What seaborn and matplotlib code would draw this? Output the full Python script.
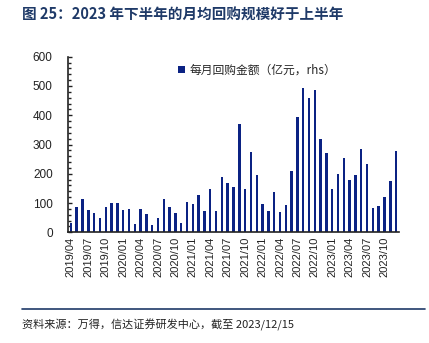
import matplotlib
matplotlib.use("Agg")
import matplotlib.pyplot as plt
import seaborn as sns
import pandas as pd
from matplotlib.ticker import MultipleLocator

# Monthly buyback amounts, 2019/04 - 2023/12 (100 million yuan)
months = [f"{y}/{m:02d}" for y in range(2019, 2024) for m in range(1, 13)][3:]
buyback = [31, 88, 113, 76, 65, 48, 85, 99, 101,
           75, 79, 27, 80, 63, 26, 48, 113, 85, 66, 31, 105,
           96, 129, 72, 147, 72, 189, 170, 155, 370, 149, 276, 197,
           97, 72, 137, 69, 92, 208, 394, 492, 459, 487, 318, 270,
           147, 198, 253, 178, 197, 284, 233, 83, 91, 121, 174, 277]
series_label = "每月回购金额（亿元，rhs）"
title_text = "图 25：2023 年下半年的月均回购规模好于上半年"
source_text = "资料来源：万得，信达证券研发中心，截至 2023/12/15"

df = pd.DataFrame({"month": months, "value": buyback})

sns.set_theme(style="white")
plt.rcParams["font.family"] = ["Noto Sans CJK SC", "DejaVu Sans"]
num_font = ["Liberation Sans", "DejaVu Sans"]
navy = "#0b2283"

fig = plt.figure(figsize=(4.29, 3.43), dpi=100)
ax = fig.add_axes([0.1585, 0.3227, 0.7716, 0.512])

sns.barplot(data=df, x="month", y="value", color=navy, width=0.42,
            saturation=1, linewidth=0, edgecolor="none", ax=ax, label=series_label)

ax.set_xlim(-0.5, len(months) - 0.5)
ax.set_ylim(0, 600)
ax.set_xlabel("")
ax.set_ylabel("")

ax.set_xticks(range(0, len(months), 3))
ax.set_xticklabels(months[::3], rotation=90, fontfamily=num_font, fontsize=8, color="#222222")
ax.yaxis.set_major_locator(MultipleLocator(100))
ax.yaxis.set_minor_locator(MultipleLocator(20))
for lab in ax.get_yticklabels():
    lab.set_fontfamily(num_font)
    lab.set_fontsize(8.5)
    lab.set_color("#222222")

ax.tick_params(axis="x", direction="in", length=3, width=1, color="#333333", pad=3)
ax.tick_params(axis="y", which="major", direction="in", length=3, width=1, color="#222222", pad=11, left=True)
ax.tick_params(axis="y", which="minor", direction="in", length=2, width=1, color="#222222", left=True)

for side in ["top", "right"]:
    ax.spines[side].set_visible(False)
for side in ["left", "bottom"]:
    ax.spines[side].set_color("#222222")
    ax.spines[side].set_linewidth(1.2)

ax.legend(loc="upper left", bbox_to_anchor=(0.30, 1.02), frameon=False,
          handlelength=0.6, handleheight=0.6, handletextpad=0.4,
          prop={"family": ["Noto Sans CJK SC", "DejaVu Sans"], "size": 8.5})

fig.text(0.051, 0.958, title_text, fontsize=10.5, fontweight="bold",
         color="#1f3a68", va="center", ha="left")

fig.add_artist(plt.Line2D([0.051, 0.99], [0.099, 0.099], color="#1f3a68", linewidth=1.2,
                          transform=fig.transFigure))
fig.text(0.051, 0.052, source_text, fontsize=8, style="italic",
         color="#222222", va="center", ha="left")

fig.savefig("out.png", dpi=100)
